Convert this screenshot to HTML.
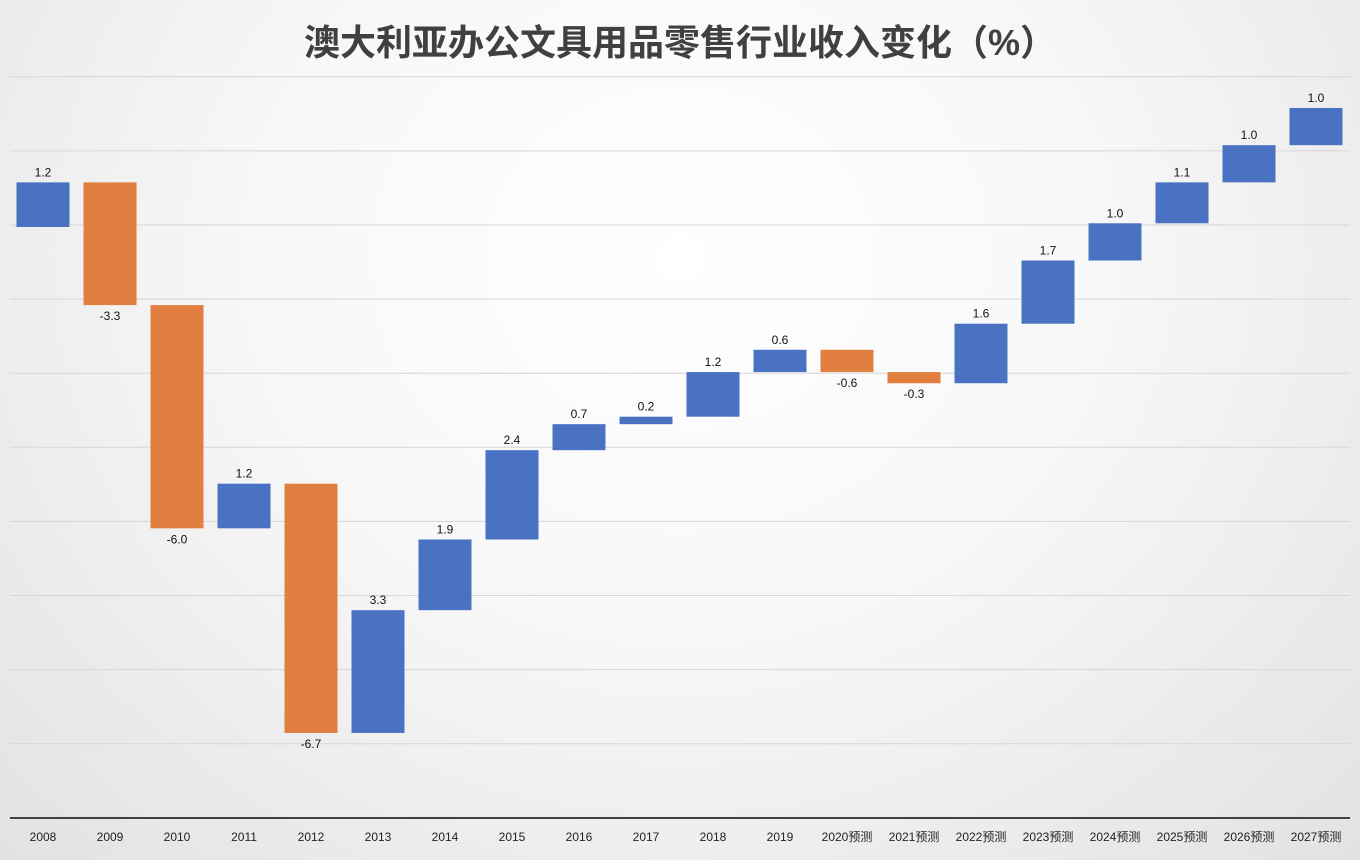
<!DOCTYPE html>
<html><head><meta charset="utf-8"><style>
html,body{margin:0;padding:0}
body{width:1360px;height:860px;overflow:hidden;background:radial-gradient(ellipse at 50% 30%,#ffffff 0%,#f7f7f7 45%,#e2e2e2 100%);font-family:"Liberation Sans","Noto Sans CJK SC",sans-serif}
</style></head><body>
<svg id="chart" width="1360" height="860" xmlns="http://www.w3.org/2000/svg" style="display:block">
<text x="680" y="55" text-anchor="middle" font-size="36" font-weight="bold" fill="#404040" font-family="Liberation Sans, Noto Sans CJK SC, sans-serif">澳大利亚办公文具用品零售行业收入变化（%）</text>
<g id="grid"></g><g id="bars"></g><g id="labels"></g><g id="xlabels"></g>
<line x1="10" y1="818" x2="1350" y2="818" stroke="#404040" stroke-width="2"/>
</svg>
<script>
const categories=["2008","2009","2010","2011","2012","2013","2014","2015","2016","2017","2018","2019","2020预测","2021预测","2022预测","2023预测","2024预测","2025预测","2026预测","2027预测"];
const changes=[1.2,-3.3,-6.0,1.2,-6.7,3.3,1.9,2.4,0.7,0.2,1.2,0.6,-0.6,-0.3,1.6,1.7,1.0,1.1,1.0,1.0];
const gridValues=[4,2,0,-2,-4,-6,-8,-10,-12,-14];
const NS="http://www.w3.org/2000/svg";
const y0=227,ppu=37.2;
function y(v){return y0-v*ppu;}
function gy(v){return 225-v*37.05;}
function x(i){return 43+i*67;}
const g=document.getElementById('grid');
gridValues.forEach(v=>{const l=document.createElementNS(NS,'line');


l.setAttribute('x1',10);l.setAttribute('x2',1350);l.setAttribute('y1',gy(v));l.setAttribute('y2',gy(v));
l.setAttribute('stroke','#d6d6d6');l.setAttribute('stroke-width','1');g.appendChild(l);});
const bg=document.getElementById('bars'),lg=document.getElementById('labels'),xg=document.getElementById('xlabels');
let cum=0;
changes.forEach((c,i)=>{
 const s=cum,e=cum+c;cum=e;
 const top=y(Math.max(s,e)),bot=y(Math.min(s,e));
 const r=document.createElementNS(NS,'rect');
 
 
 r.setAttribute('x',x(i)-26.5);r.setAttribute('width',53);r.setAttribute('y',top);r.setAttribute('height',Math.max(bot-top,1));
 r.setAttribute('fill',c>=0?'#4a72c2':'#e07f3f');bg.appendChild(r);
 const t=document.createElementNS(NS,'text');
 
 
 t.setAttribute('x',x(i));t.setAttribute('y',c>=0?top-6:bot+15);
 t.setAttribute('text-anchor','middle');t.setAttribute('font-size','12');t.setAttribute('fill','#111');
 t.textContent=c.toFixed(1);lg.appendChild(t);
 const xt=document.createElementNS(NS,'text');
 
 
 xt.setAttribute('x',x(i));xt.setAttribute('y',841);xt.setAttribute('text-anchor','middle');
 xt.setAttribute('font-size','12');xt.setAttribute('fill','#222');
 xt.setAttribute('font-family','Liberation Sans, Noto Sans CJK SC, sans-serif');
 xt.textContent=categories[i];xg.appendChild(xt);
});
</script>
</body></html>
